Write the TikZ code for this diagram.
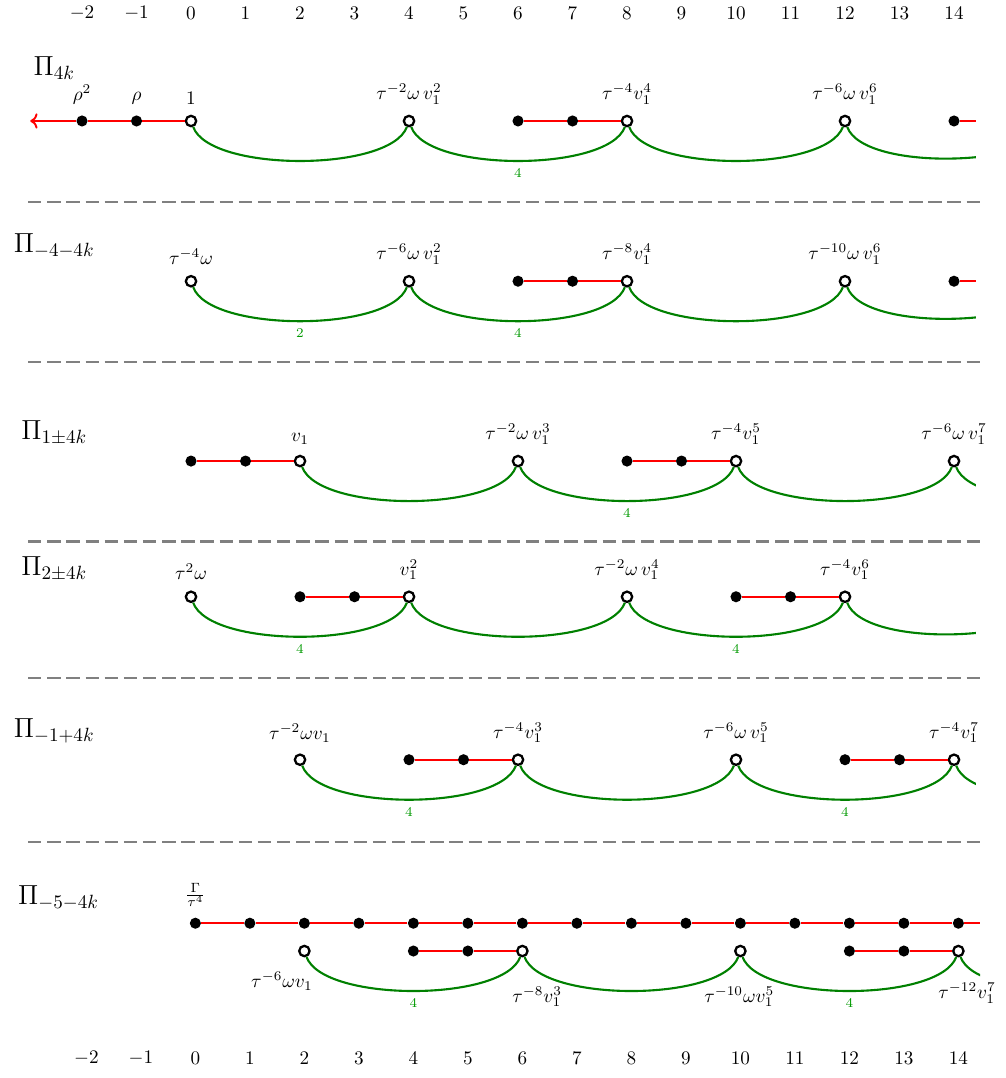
\documentclass[tikz,border=0pt]{standalone}
\usepackage{amsmath, amssymb}
\usepackage{tikz}
\usepackage{xcolor}
\usetikzlibrary{positioning, arrows.meta}
\tikzset{
    fdot/.style={circle, fill=black, inner sep=0pt, minimum size=5.8pt},
    odot/.style={circle, draw=black, fill=white, line width=1.2pt, inner sep=0pt, minimum size=5.4pt},
    redline/.style={draw=red, line width=1pt},
    hop/.style={draw=green!50!black, line width=1.1pt, out=-70, in=-110, looseness=0.58},
    hopnum/.style={below, font=\scriptsize, text=green!60!black},
    rowname/.style={font=\Large},
    sep/.style={draw=gray, line width=1.3pt, dash pattern=on 7pt off 3pt}
}

\begin{document}
\begin{tikzpicture}[
    >=To,
    label distance=2pt
]
\useasboundingbox (-3.505,2.22) rectangle (14.936,-17.56);

% Degrees
\foreach \x in {-2,...,14}
    \node (T\x) at (\x,1.98) {$\x$};

% Pi_{4k}
\node[rowname] (P1) at (-2.51,0.97) {$\Pi_{4k}$};
\node[fdot, label={above:$\rho^2$}] (A-2) at (-2,0) {};
\node[fdot, label={above:$\rho$}] (A-1) at (-1,0) {};
\node[odot, label={above:$1$}] (A0) at (0,0) {};
\node[odot, label={above:$\tau^{-2}\omega\, v_1^2$}] (A4) at (4,0) {};
\node[fdot] (A6) at (6,0) {};
\node[fdot] (A7) at (7,0) {};
\node[odot, label={above:$\tau^{-4}v_1^4$}] (A8) at (8,0) {};
\node[odot, label={above:$\tau^{-6}\omega\, v_1^6$}] (A12) at (12,0) {};
\node[fdot] (A14) at (14,0) {};
\coordinate (Aend) at (-2.95,0);
\coordinate (Aout) at (14.4,0);
\coordinate (A16) at (16,0);

\draw[redline] (A0) -- (A-1);
\draw[redline] (A-1) -- (A-2);
\draw[redline, ->] (A-2) -- (Aend);
\draw[redline] (A6) -- (A7) -- (A8);
\draw[redline] (A14) -- (Aout);
\draw[hop] (A0) to (A4);
\draw[hop] (A4) to node[hopnum] {4} (A8);
\draw[hop] (A8) to (A12);

\draw[sep] (-2.99,-1.49) -- (14.51,-1.49);

% Pi_{-4-4k}
\node[rowname] (P2) at (-2.51,-2.29) {$\Pi_{-4-4k}$};
\node[odot, label={above:$\tau^{-4}\omega$}] (B0) at (0,-2.94) {};
\node[odot, label={above:$\tau^{-6}\omega\, v_1^2$}] (B4) at (4,-2.94) {};
\node[fdot] (B6) at (6,-2.94) {};
\node[fdot] (B7) at (7,-2.94) {};
\node[odot, label={above:$\tau^{-8}v_1^4$}] (B8) at (8,-2.94) {};
\node[odot, label={above:$\tau^{-10}\omega\, v_1^6$}] (B12) at (12,-2.94) {};
\node[fdot] (B14) at (14,-2.94) {};
\coordinate (Bout) at (14.4,-2.94);
\coordinate (B16) at (16,-2.94);

\draw[redline] (B6) -- (B7) -- (B8);
\draw[redline] (B14) -- (Bout);
\draw[hop] (B0) to node[hopnum] {2} (B4);
\draw[hop] (B4) to node[hopnum] {4} (B8);
\draw[hop] (B8) to (B12);

\draw[sep] (-2.99,-4.42) -- (14.51,-4.42);

% Pi_{1+-4k}
\node[rowname] (P3) at (-2.51,-5.72) {$\Pi_{1\pm4k}$};
\node[fdot] (C0) at (0,-6.24) {};
\node[fdot] (C1) at (1,-6.24) {};
\node[odot, label={above:$v_1$}] (C2) at (2,-6.24) {};
\node[odot, label={above:$\tau^{-2}\omega\, v_1^3$}] (C6) at (6,-6.24) {};
\node[fdot] (C8) at (8,-6.24) {};
\node[fdot] (C9) at (9,-6.24) {};
\node[odot, label={above:$\tau^{-4}v_1^5$}] (C10) at (10,-6.24) {};
\node[odot, label={above:$\tau^{-6}\omega\, v_1^7$}] (C14) at (14,-6.24) {};
\coordinate (C18) at (18,-6.24);

\draw[redline] (C0) -- (C1) -- (C2);
\draw[redline] (C8) -- (C9) -- (C10);
\draw[hop] (C2) to (C6);
\draw[hop] (C6) to node[hopnum] {4} (C10);
\draw[hop] (C10) to (C14);

\draw[sep] (-2.99,-7.72) -- (14.51,-7.72);

% Pi_{2+-4k}
\node[rowname] (P4) at (-2.51,-8.22) {$\Pi_{2\pm4k}$};
\node[odot, label={above:$\tau^2\omega$}] (D0) at (0,-8.73) {};
\node[fdot] (D2) at (2,-8.73) {};
\node[fdot] (D3) at (3,-8.73) {};
\node[odot, label={above:$v_1^2$}] (D4) at (4,-8.73) {};
\node[odot, label={above:$\tau^{-2}\omega\, v_1^4$}] (D8) at (8,-8.73) {};
\node[fdot] (D10) at (10,-8.73) {};
\node[fdot] (D11) at (11,-8.73) {};
\node[odot, label={above:$\tau^{-4}v_1^6$}] (D12) at (12,-8.73) {};
\coordinate (D16) at (16,-8.73);

\draw[redline] (D2) -- (D3) -- (D4);
\draw[redline] (D10) -- (D11) -- (D12);
\draw[hop] (D0) to node[hopnum] {4} (D4);
\draw[hop] (D4) to (D8);
\draw[hop] (D8) to node[hopnum] {4} (D12);

\draw[sep] (-2.99,-10.22) -- (14.51,-10.22);

% Pi_{-1+4k}
\node[rowname] (P5) at (-2.51,-11.19) {$\Pi_{-1+4k}$};
\node[odot, label={above:$\tau^{-2}\omega v_1$}] (E2) at (2,-11.72) {};
\node[fdot] (E4) at (4,-11.72) {};
\node[fdot] (E5) at (5,-11.72) {};
\node[odot, label={above:$\tau^{-4}v_1^3$}] (E6) at (6,-11.72) {};
\node[odot, label={above:$\tau^{-6}\omega\, v_1^5$}] (E10) at (10,-11.72) {};
\node[fdot] (E12) at (12,-11.72) {};
\node[fdot] (E13) at (13,-11.72) {};
\node[odot, label={above:$\tau^{-4}v_1^7$}] (E14) at (14,-11.72) {};
\coordinate (E18) at (18,-11.72);

\draw[redline] (E4) -- (E5) -- (E6);
\draw[redline] (E12) -- (E13) -- (E14);
\draw[hop] (E2) to node[hopnum] {4} (E6);
\draw[hop] (E6) to (E10);
\draw[hop] (E10) to node[hopnum] {4} (E14);

\draw[sep] (-2.99,-13.23) -- (14.51,-13.23);

% tails running off the right edge
\begin{scope}
\clip (-3.5,2.2) rectangle (14.4,-13);
\draw[hop] (A12) to (A16);
\draw[hop] (B12) to (B16);
\draw[hop] (C14) to (C18);
\draw[hop] (D12) to (D16);
\draw[hop] (E14) to (E18);
\end{scope}

\begin{scope}[xshift=0.08cm]
% Pi_{-5-4k}
\node[rowname] (P6) at (-2.51,-14.26) {$\Pi_{-5-4k}$};
\node[fdot, label={above:$\frac{\Gamma}{\tau^4}$}] (F0) at (0,-14.72) {};
\foreach \x in {1,...,14}
    \node[fdot] (F\x) at (\x,-14.72) {};
\coordinate (Fout) at (14.4,-14.72);
\foreach \x [remember=\x as \lastx (initially 0)] in {1,...,14}
    \draw[redline] (F\lastx) -- (F\x);
\draw[redline] (F14) -- (Fout);

\node[odot] (G2) at (2,-15.23) {};
\node[fdot] (G4) at (4,-15.23) {};
\node[fdot] (G5) at (5,-15.23) {};
\node[odot] (G6) at (6,-15.23) {};
\node[odot] (G10) at (10,-15.23) {};
\node[fdot] (G12) at (12,-15.23) {};
\node[fdot] (G13) at (13,-15.23) {};
\node[odot] (G14) at (14,-15.23) {};
\coordinate (G18) at (18,-15.23);
\node (L2) at (1.59,-15.78) {$\tau^{-6}\omega v_1$};
\node (L6) at (6.27,-16.07) {$\tau^{-8}v_1^3$};
\node (L10) at (9.98,-16.07) {$\tau^{-10}\omega v_1^5$};
\node (L14) at (14.16,-16.0) {$\tau^{-12}v_1^7$};

\draw[redline] (G4) -- (G5) -- (G6);
\draw[redline] (G12) -- (G13) -- (G14);
\draw[hop] (G2) to node[hopnum] {4} (G6);
\draw[hop] (G6) to (G10);
\draw[hop] (G10) to node[hopnum] {4} (G14);
\begin{scope}
\clip (-3.5,-14) rectangle (14.4,-17);
\draw[hop] (G14) to (G18);
\end{scope}

% Degrees
\foreach \x in {-2,...,14}
    \node (S\x) at (\x,-17.19) {$\x$};
\end{scope}

\end{tikzpicture}
\end{document}
